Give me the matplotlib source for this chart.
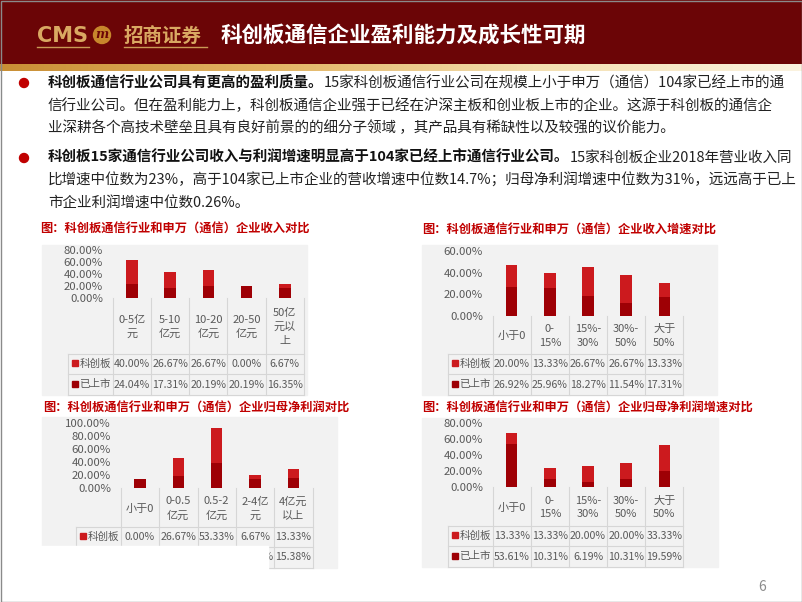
import numpy as np
import matplotlib.pyplot as plt
from matplotlib.patches import Rectangle, Circle
from matplotlib.colors import LinearSegmentedColormap

plt.rcParams['font.family'] = ['Noto Sans CJK SC', 'DejaVu Sans']

# ---- data (percent) ----
cats_rev = ['0-5亿\n元', '5-10\n亿元', '10-20\n亿元', '20-50\n亿元', '50亿\n元以\n上']
kcb_rev = [40.00, 26.67, 26.67, 0.00, 6.67]
listed_rev = [24.04, 17.31, 20.19, 20.19, 16.35]

cats_growth = ['小于0', '0-\n15%', '15%-\n30%', '30%-\n50%', '大于\n50%']
kcb_rev_growth = [20.00, 13.33, 26.67, 26.67, 13.33]
listed_rev_growth = [26.92, 25.96, 18.27, 11.54, 17.31]

cats_profit = ['小于0', '0-0.5\n亿元', '0.5-2\n亿元', '2-4亿\n元', '4亿元\n以上']
kcb_profit = [0.00, 26.67, 53.33, 6.67, 13.33]
listed_profit = [13.46, 19.23, 38.46, 13.46, 15.38]

kcb_profit_growth = [13.33, 13.33, 20.00, 20.00, 33.33]
listed_profit_growth = [53.61, 10.31, 6.19, 10.31, 19.59]

row_names = ['科创板', '已上市']

title = '科创板通信企业盈利能力及成长性可期'
bullet1 = [('科创板通信行业公司具有更高的盈利质量。', '15家科创板通信行业公司在规模上小于申万（通信）104家已经上市的通'),
           ('', '信行业公司。但在盈利能力上，科创板通信企业强于已经在沪深主板和创业板上市的企业。这源于科创板的通信企'),
           ('', '业深耕各个高技术壁垒且具有良好前景的的细分子领域 ，其产品具有稀缺性以及较强的议价能力。')]
bullet2 = [('科创板15家通信行业公司收入与利润增速明显高于104家已经上市通信行业公司。', '15家科创板企业2018年营业收入同'),
           ('', '比增速中位数为23%，高于104家已上市企业的营收增速中位数14.7%；归母净利润增速中位数为31%，远远高于已上'),
           ('', '市企业利润增速中位数0.26%。')]

RED = '#cc1a1e'
DARK = '#9e0005'
GRID = '#d6d6d6'
TXT = '#595959'

W, H = 802, 602
fig = plt.figure(figsize=(W / 100, H / 100), dpi=100)
bg = fig.add_axes([0, 0, 1, 1])
bg.axis('off')
bg.set_xlim(0, W)
bg.set_ylim(H, 0)

# header
bg.add_patch(Rectangle((0, 0), W, 65, color='#6b0506', zorder=1))
gold = LinearSegmentedColormap.from_list('gold', ['#c98f35', '#e2b463', '#f3dfb0', '#fbf3e0'])
bg.imshow(np.linspace(0, 1, 256).reshape(1, -1), extent=(0, W, 71, 64), cmap=gold,
          aspect='auto', zorder=1)
bg.text(37, 36, 'CMS', color='#d9a862', fontsize=15, fontweight='bold', va='center',
        family='DejaVu Sans', zorder=3)
bg.add_patch(Circle((102, 35), 8.5, color='#c7862c', zorder=3))
bg.text(102, 35, 'm', color='#6b0506', fontsize=9, fontweight='bold', fontstyle='italic',
        ha='center', va='center', family='DejaVu Serif', zorder=4)
bg.text(124, 36, '招商证券', color='#d9a862', fontsize=14, fontweight='bold', va='center', zorder=3)
bg.plot([37, 89], [47, 47], color='#c99a55', lw=1, zorder=3)
bg.plot([124, 207], [47, 47], color='#c99a55', lw=1, zorder=3)
bg.text(221, 35, title, color='white', fontsize=15.5, fontweight='bold', va='center', zorder=3)
bg.set_xlim(0, W)
bg.set_ylim(H, 0)

# bullet text
body = []


def draw_bullet(lines, y0):
    bg.add_patch(Circle((24, y0), 4.5, color='#c00000', zorder=3))
    for i, (bold, normal) in enumerate(lines):
        y = y0 + i * 22.5
        t = bg.text(48, y, bold, fontweight='bold', fontsize=10, va='center', color='#111111')
        a = bg.annotate(normal, xy=(1, 0.5), xycoords=t, va='center', ha='left',
                        fontsize=10, color='#222222')
        body.append((t, a))


draw_bullet(bullet1, 83)
draw_bullet(bullet2, 158)

# scale body font so the full second line spans the text column (48..775 px)
fig.canvas.draw()
r = fig.canvas.get_renderer()
w = body[1][1].get_window_extent(r).width
size = 10 * 727 / w
for t, a in body:
    t.set_fontsize(size)
    a.set_fontsize(size)


def draw_chart(caption, cats, kcb, listed, ymax, cap_xy, box, px0, px1, ytop, yzero, rows, cover=None):
    bg.text(cap_xy[0], cap_xy[1], caption, color='#c00000', fontsize=8.8, fontweight='bold',
            va='center', zorder=3)
    bx0, by0, bx1, by1 = box
    bg.add_patch(Rectangle((bx0, by0), bx1 - bx0, by1 - by0, color='#f2f2f2', zorder=1))

    ax = fig.add_axes([px0 / W, 1 - yzero / H, (px1 - px0) / W, (yzero - ytop) / H])
    ax.patch.set_alpha(0)
    for s in ax.spines.values():
        s.set_visible(False)
    x = np.arange(len(cats))
    ax.bar(x, listed, width=0.3, color=DARK)
    ax.bar(x, kcb, width=0.3, bottom=listed, color=RED)
    ax.set_xlim(-0.5, len(cats) - 0.5)
    ax.set_ylim(0, ymax)
    ticks = np.arange(0, ymax + 1, 20)
    ax.set_yticks(ticks)
    ax.set_yticklabels([f'{v:.2f}%' for v in ticks])
    ax.set_xticks([])
    ax.tick_params(axis='y', length=0, pad=7, labelsize=8.2, labelcolor=TXT)

    # table grid
    cw = (px1 - px0) / len(cats)
    r0, r1, r2, r3 = yzero, rows[0], rows[1], rows[2]
    lx = px0 - 45
    for i in range(len(cats) + 1):
        bg.plot([px0 + i * cw] * 2, [r0, r3], color=GRID, lw=0.8, zorder=2)
    bg.plot([lx, lx], [r1, r3], color=GRID, lw=0.8, zorder=2)
    for rr in (r1, r2, r3):
        bg.plot([lx, px1], [rr, rr], color=GRID, lw=0.8, zorder=2)

    for i, c in enumerate(cats):
        bg.text(px0 + (i + 0.5) * cw, (r0 + r1) / 2 + 1, c, ha='center', va='center',
                fontsize=8, linespacing=1.45, color=TXT, zorder=3)
    for (name, vals, col, ra, rb) in ((row_names[0], kcb, RED, r1, r2),
                                      (row_names[1], listed, DARK, r2, r3)):
        ym = (ra + rb) / 2
        bg.add_patch(Rectangle((px0 - 41, ym - 4), 6, 6, color=col, zorder=3))
        bg.text(px0 - 33, ym, name, va='center', fontsize=7.6, color=TXT, zorder=3)
        for i, v in enumerate(vals):
            bg.text(px0 + (i + 0.5) * cw, ym, f'{v:.2f}%', ha='center', va='center',
                    fontsize=7.6, color=TXT, zorder=3)
    if cover is not None:
        bg.add_patch(Rectangle((cover[0], cover[1]), cover[2] - cover[0], cover[3] - cover[1],
                               color='white', zorder=6))


draw_chart('图：科创板通信行业和申万（通信）企业收入对比', cats_rev, kcb_rev, listed_rev, 80,
           (40, 229), (42, 245, 307, 395), 112.7, 304, 250, 298, (354, 374, 395))
draw_chart('图：科创板通信行业和申万（通信）企业收入增速对比', cats_growth, kcb_rev_growth,
           listed_rev_growth, 60, (422, 230), (422, 245, 717, 395), 492.7, 683.3, 251, 316,
           (354, 374, 395))
draw_chart('图：科创板通信行业和申万（通信）企业归母净利润对比', cats_profit, kcb_profit,
           listed_profit, 100, (43, 408), (42, 417, 337, 568), 120.7, 312.7, 423, 488,
           (527, 547, 568), cover=(38, 546, 268, 572))
draw_chart('图：科创板通信行业和申万（通信）企业归母净利润增速对比', cats_growth, kcb_profit_growth,
           listed_profit_growth, 80, (422, 408), (422, 418, 718, 567), 492.7, 683.3, 423, 487,
           (526, 546, 567))

bg.text(762, 587, '6', color='#8c8c8c', fontsize=10, ha='center', va='center')
bg.add_patch(Rectangle((0.5, 0.5), W - 1, H - 1, fill=False, edgecolor='#8a8a8a', lw=1, zorder=10))

bg.set_xlim(0, W)
bg.set_ylim(H, 0)
fig.savefig('out.png', dpi=100)
